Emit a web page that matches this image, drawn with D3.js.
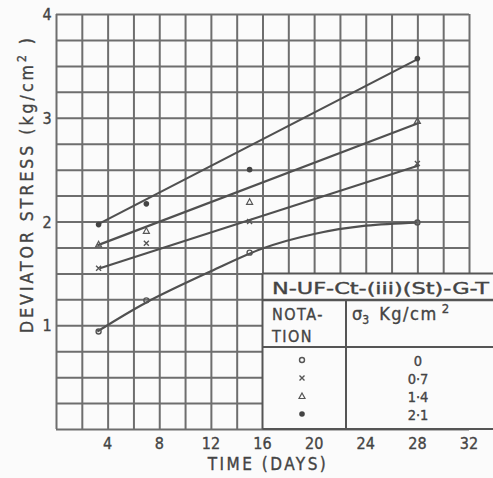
<!DOCTYPE html>
<html>
<meta charset="utf-8">
<title>Deviator stress vs time</title>
<style>
	body {
		margin: 0;
		background: #fbfbfb;
	}

	text {
		font-family: "DejaVu Sans Condensed", "DejaVu Sans", sans-serif;
		fill: #444;
		stroke: #444;
		stroke-width: 0.35px;
	}

	.grid line,
	.grid path {
		stroke: #6e6e6e;
		stroke-width: 2;
	}

	.fit {
		fill: none;
		stroke: #505050;
		stroke-width: 2.2;
	}

	.tab line {
		stroke: #555;
		stroke-width: 2;
	}
</style>

<body>
	<script src="https://cdn.jsdelivr.net/npm/d3@7"></script>
	<script>
		// data
		var days = [3.3, 7, 15, 28];
		var s00 = [0.94, 1.24, 1.70, 1.99],
			s07 = [1.55, 1.79, 2.00, 2.56],
			s14 = [1.78, 1.91, 2.19, 2.97],
			s21 = [1.97, 2.17, 2.50, 3.57];

		// drawn trend lines, [day, stress]
		var fit00 = [[3.2, 0.94], [7, 1.22], [12, 1.52], [16, 1.74], [20, 1.88], [24, 1.96], [28, 1.99]],
			fit07 = [[3.4, 1.55], [28.1, 2.54]],
			fit14 = [[3.2, 1.77], [28.1, 2.95]],
			fit21 = [[3.2, 1.97], [28.1, 3.57]];

		var xTicks = [4, 8, 12, 16, 20, 24, 28, 32],
			yTicks = [1, 2, 3, 4];
		var sigma3 = ["0", "0·7", "1·4", "2·1"],
			symbols = ["circle", "cross", "triangle", "dot"];

		var W = 493, H = 478;

		var x = d3.scaleLinear().domain([0, 32]).range([56, 469]),
			y = d3.scaleLinear().domain([0, 4]).range([429, 14]);

		var svg = d3.select("body").append("svg")
			.attr("width", W)
			.attr("height", H);

		/* grid: one line every 2 days and every 0.25 */
		var g = svg.append("g").attr("class", "grid");

		g.append("g")
			.attr("transform", "translate(0," + y(0) + ")")
			.call(d3.axisBottom(x).tickValues(d3.range(0, 33, 2)).tickSize(-(y(0) - y(4))).tickFormat(""))
			.call(function (s) { s.select(".domain").remove(); });

		g.append("g")
			.attr("transform", "translate(" + x(0) + ",0)")
			.call(d3.axisLeft(y).tickValues(d3.range(0, 4.01, 0.25)).tickSize(-(x(32) - x(0))).tickFormat(""))
			.call(function (s) { s.select(".domain").remove(); });

		/* tick labels */
		svg.append("g").selectAll("text")
			.data(xTicks)
			.enter().append("text")
			.attr("x", function (d) { return x(d); })
			.attr("y", 449)
			.attr("text-anchor", "middle")
			.style("font-size", "16px")
			.text(function (d) { return d; });

		svg.append("g").selectAll("text")
			.data(yTicks)
			.enter().append("text")
			.attr("x", 47)
			.attr("y", function (d) { return y(d) + 6; })
			.attr("text-anchor", "middle")
			.style("font-size", "16px")
			.text(function (d) { return d; });

		svg.append("text")
			.attr("x", 268)
			.attr("y", 470)
			.attr("text-anchor", "middle")
			.style("font-size", "17px")
			.style("letter-spacing", "2.5px")
			.text("TIME (DAYS)");

		var yt = svg.append("text")
			.attr("transform", "translate(33,184) rotate(-90)")
			.attr("text-anchor", "middle")
			.style("font-size", "17.5px")
			.style("letter-spacing", "3px");
		yt.append("tspan").text("DEVIATOR  STRESS (kg/cm");
		yt.append("tspan").attr("dy", -7).style("font-size", "12px").text("2");
		yt.append("tspan").attr("dy", 7).text(" )");

		/* trend lines */
		var line = d3.line()
			.x(function (d) { return x(d[0]); })
			.y(function (d) { return y(d[1]); })
			.curve(d3.curveCatmullRom);

		svg.selectAll(".fit")
			.data([fit00, fit07, fit14, fit21])
			.enter().append("path")
			.attr("class", "fit")
			.attr("d", line);

		/* markers */
		function drawSymbol(sel, kind, cx, cy) {
			if (kind === "circle") {
				sel.append("circle").attr("cx", cx).attr("cy", cy).attr("r", 2.5)
					.style("fill", "none").style("stroke", "#555").style("stroke-width", 1.4);
			} else if (kind === "cross") {
				sel.append("path").attr("d", "M" + (cx - 2.5) + "," + (cy - 2.5) + "l5,5M" + (cx + 2.5) + "," + (cy - 2.5) + "l-5,5")
					.style("stroke", "#555").style("stroke-width", 1.4);
			} else if (kind === "triangle") {
				sel.append("path").attr("d", "M" + cx + "," + (cy - 3) + "l3,5.5h-6z")
					.style("fill", "none").style("stroke", "#555").style("stroke-width", 1.2);
			} else {
				sel.append("circle").attr("cx", cx).attr("cy", cy).attr("r", 2.8)
					.style("fill", "#444");
			}
		}

		var pts = svg.append("g");
		[s00, s07, s14, s21].forEach(function (ser, i) {
			ser.forEach(function (v, j) {
				drawSymbol(pts, symbols[i], x(days[j]), y(v));
			});
		});

		/* notation table */
		var tab = svg.append("g").attr("class", "tab");
		var tx0 = x(16), ty0 = y(1.5), tx1 = W;
		tab.append("rect")
			.attr("x", tx0)
			.attr("y", ty0)
			.attr("width", tx1 - tx0)
			.attr("height", y(0) - ty0)
			.style("fill", "#fbfbfb");

		var rowTitle = 300, rowHead = 347, colDiv = 346;
		tab.append("line").attr("x1", tx0).attr("x2", tx1).attr("y1", ty0).attr("y2", ty0);
		tab.append("line").attr("x1", tx0).attr("x2", tx1).attr("y1", rowTitle).attr("y2", rowTitle).style("stroke-width", 2.5);
		tab.append("line").attr("x1", tx0).attr("x2", tx1).attr("y1", rowHead).attr("y2", rowHead);
		tab.append("line").attr("x1", tx0).attr("x2", tx1).attr("y1", y(0)).attr("y2", y(0));
		tab.append("line").attr("x1", tx0).attr("x2", tx0).attr("y1", ty0).attr("y2", y(0));
		tab.append("line").attr("x1", colDiv).attr("x2", colDiv).attr("y1", rowTitle).attr("y2", y(0));

		tab.append("text")
			.attr("x", 272)
			.attr("y", 294)
			.attr("textLength", 217)
			.attr("lengthAdjust", "spacingAndGlyphs")
			.style("font-size", "16px")
			.text("N-UF-Ct-(iii)(St)-G-T");

		tab.append("text").attr("x", 272).attr("y", 320).style("font-size", "16px").style("letter-spacing", "1.5px").text("NOTA-");
		tab.append("text").attr("x", 272).attr("y", 342).style("font-size", "16px").style("letter-spacing", "1.5px").text("TION");

		var hd = tab.append("text").attr("x", 352).attr("y", 320).style("font-size", "18px");
		hd.append("tspan").text("σ");
		hd.append("tspan").attr("dy", 4).style("font-size", "12px").text("3");
		hd.append("tspan").attr("dy", -4).attr("dx", 10).style("letter-spacing", "1.5px").text("Kg/cm");
		hd.append("tspan").attr("dy", -7).attr("dx", 4).style("font-size", "13px").text("2");

		var rowY = d3.scaleLinear().domain([0, 3]).range([360, 414]);
		sigma3.forEach(function (s, i) {
			drawSymbol(tab, symbols[i], 302, rowY(i));
			tab.append("text")
				.attr("x", 418)
				.attr("y", rowY(i) + 5.5)
				.attr("text-anchor", "middle")
				.style("font-size", "14.5px")
				.text(s);
		});
	</script>
</body>

</html>
